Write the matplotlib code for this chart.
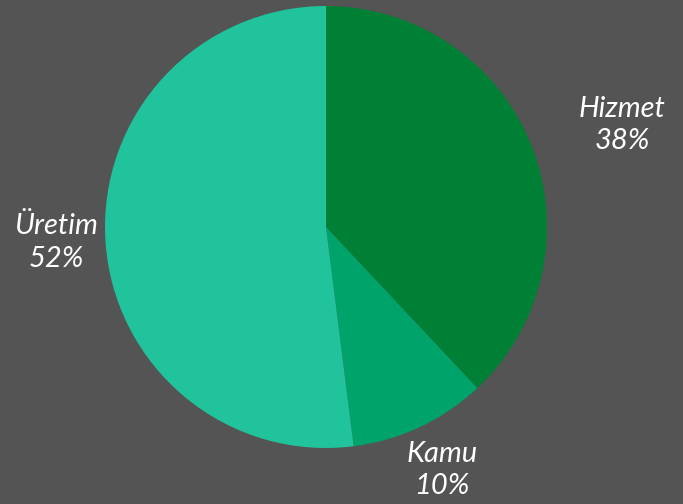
import matplotlib.pyplot as plt

labels = ['Hizmet', 'Kamu', 'Üretim']
shares = [38, 10, 52]
colors = ['#008035', '#00a36a', '#20c39b']
# label centres, in pie radii from the centre
label_pos = [(1.34, 0.46), (0.525, -1.10), (-1.22, -0.07)]

bg = '#545454'
fig = plt.figure(figsize=(6.83, 5.04), dpi=100, facecolor=bg)
cx, cy, r = 326, 227, 221
ax = fig.add_axes([(cx - r) / 683, (504 - cy - r) / 504, 2 * r / 683, 2 * r / 504])
ax.set_facecolor(bg)

wedges, _ = ax.pie(shares, colors=colors, startangle=90, counterclock=False,
                   radius=1, wedgeprops=dict(linewidth=0))
ax.set_xlim(-1, 1)
ax.set_ylim(-1, 1)
ax.set_aspect('equal')
ax.axis('off')

for lab, val, (x, y) in zip(labels, shares, label_pos):
    ax.text(x, y, f'{lab}\n{val}%',
            ha='center', va='center', color='white', fontsize=21,
            fontfamily='Lato', style='italic',
            linespacing=1.3, clip_on=False)

fig.savefig('out.png', facecolor=bg)
